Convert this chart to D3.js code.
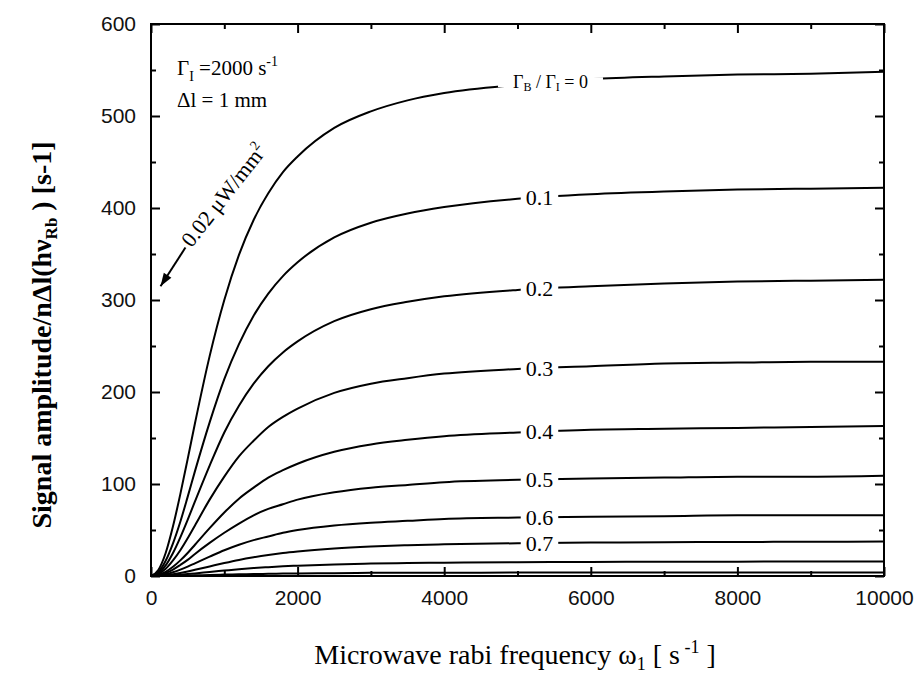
<!DOCTYPE html>
<html><head><meta charset="utf-8">
<script src="https://cdn.jsdelivr.net/npm/d3@7"></script>
<style>body{margin:0;background:#fff}</style>
</head><body>
<svg id="chart" width="914" height="677"></svg>
<script>
// ---- data ----
const omega = [0,100,200,300,400,500,600,800,1000,1200,1400,1600,1800,2000,2500,3000,3500,4000,5000,6000,7000,8000,9000,10000];
const ratioLabels = ["0","0.1","0.2","0.3","0.4","0.5","0.6","0.7","0.8","0.9"];
const amp00 = [0,6.5,25,54,89,127,166,239,300,349,387,416,439,456,487,505,517,525,534,540,543,545,546,548];
const amp01 = [0,4.3,16.5,35.5,59,86,114,167,214,252,283,307,326,341,368,384,394,401,410,415,418,420,421,422];
const amp02 = [0,3,11.5,25,42,61,81,120,156,185,209,228,243,255,277,290,298,304,311,315,318,320,321,322];
const amp03 = [0,2,7.8,17,28,41,55,83,108,130,147,162,173,182,199,209,215,220,225,228,231,232,233,233];
const amp04 = [0,1.2,4.6,10,17,25,34,52,69,84,96,107,115,122,135,143,148,152,156,159,160,161,162,163];
const amp05 = [0,0.8,3.2,7,12,17.5,24,36,47,57,66,73,78,83,91,96,99,102,104.5,106,107,108,108,109];
const amp06 = [0,0.5,1.9,4.1,6.9,10.2,13.8,21,28,34,39,43,47,50,55,58,60,62,63.5,64.5,65,66,66,66];
const amp07 = [0,0.2,0.9,1.9,3.3,4.9,6.7,10.4,14.1,17.5,20.4,22.9,25,26.7,29.9,32,33.4,34.4,35.6,36.3,36.7,37,37.2,37.4];
const amp08 = [0,0.1,0.4,0.8,1.4,2.1,2.8,4.4,5.9,7.4,8.6,9.6,10.5,11.2,12.6,13.5,14.1,14.5,15,15.3,15.5,15.6,15.7,15.7];
const amp09 = [0,0,0.1,0.2,0.3,0.5,0.7,1.1,1.5,1.8,2.1,2.4,2.6,2.8,3.1,3.4,3.5,3.6,3.7,3.8,3.9,3.9,3.9,3.9];
const xMajorTicks = [0,2000,4000,6000,8000,10000];
const xMinorTicks = [1000,3000,5000,7000,9000];
const yMajorTicks = [0,100,200,300,400,500,600];
const yMinorTicks = [50,150,250,350,450,550];

const seriesList = [amp00,amp01,amp02,amp03,amp04,amp05,amp06,amp07,amp08,amp09];

// ---- layout ----
const svg = d3.select("#chart");
const L = 151, R = 884, T = 24, B = 576;
const x = d3.scaleLinear().domain([0,10000]).range([L,R]);
const y = d3.scaleLinear().domain([0,600]).range([B,T]);
const serif = "'Liberation Serif','Times New Roman',serif";
const sans = "'Liberation Sans',Arial,Helvetica,sans-serif";

// frame
svg.append("rect").attr("x",L).attr("y",T).attr("width",R-L).attr("height",B-T)
  .attr("fill","none").attr("stroke","#000").attr("stroke-width",2);

function styleAxis(g){
  g.select(".domain").remove();
  g.selectAll(".tick line").attr("stroke","#000").attr("stroke-width",2);
  g.selectAll(".tick text").attr("font-family",sans).attr("font-size",21).attr("fill","#111");
}
// bottom
svg.append("g").attr("transform",`translate(0,${B})`)
  .call(d3.axisBottom(x).tickValues(xMajorTicks).tickSize(-9).tickPadding(14).tickFormat(d3.format("d")))
  .call(styleAxis);
svg.append("g").attr("transform",`translate(0,${B})`)
  .call(d3.axisBottom(x).tickValues(xMinorTicks).tickSize(-5).tickFormat(""))
  .call(styleAxis);
// top
svg.append("g").attr("transform",`translate(0,${T})`)
  .call(d3.axisTop(x).tickValues(xMajorTicks).tickSize(-9).tickFormat(""))
  .call(styleAxis);
svg.append("g").attr("transform",`translate(0,${T})`)
  .call(d3.axisTop(x).tickValues(xMinorTicks).tickSize(-5).tickFormat(""))
  .call(styleAxis);
// left
svg.append("g").attr("transform",`translate(${L},0)`)
  .call(d3.axisLeft(y).tickValues(yMajorTicks).tickSize(-9).tickPadding(15).tickFormat(d3.format("d")))
  .call(styleAxis);
svg.append("g").attr("transform",`translate(${L},0)`)
  .call(d3.axisLeft(y).tickValues(yMinorTicks).tickSize(-5).tickFormat(""))
  .call(styleAxis);
// right
svg.append("g").attr("transform",`translate(${R},0)`)
  .call(d3.axisRight(y).tickValues(yMajorTicks).tickSize(-9).tickFormat(""))
  .call(styleAxis);
svg.append("g").attr("transform",`translate(${R},0)`)
  .call(d3.axisRight(y).tickValues(yMinorTicks).tickSize(-5).tickFormat(""))
  .call(styleAxis);

// curves
const line = d3.line().x((d,i)=>x(omega[i])).y(d=>y(d)).curve(d3.curveMonotoneX);
svg.append("g").selectAll("path").data(seriesList).join("path")
  .attr("d",line).attr("fill","none").attr("stroke","#000").attr("stroke-width",2);

function valueAt(series, w){
  for(let i=1;i<omega.length;i++){
    if(w<=omega[i]){
      const t=(w-omega[i-1])/(omega[i]-omega[i-1]);
      return series[i-1]+t*(series[i]-series[i-1]);
    }
  }
  return series[series.length-1];
}

// curve labels
const labG = svg.append("g");
function curveLabel(series, w, build, pad){
  const cx = x(w), cy = y(valueAt(series,w));
  const g = labG.append("g");
  const bg = g.append("rect").attr("fill","#fff");
  const t = g.append("text").attr("x",cx).attr("y",cy).attr("text-anchor","middle")
    .attr("dominant-baseline","central").attr("font-family",serif).attr("fill","#000");
  build(t);
  const bb = t.node().getBBox();
  bg.attr("x",bb.x-pad).attr("width",bb.width+2*pad).attr("y",cy-5).attr("height",10);
}
curveLabel(amp00, 5450, t=>{
  t.attr("font-size",18);
  t.append("tspan").text("Γ");
  t.append("tspan").attr("font-size",12).attr("dy",5).text("B");
  t.append("tspan").attr("dy",-5).text(" / Γ");
  t.append("tspan").attr("font-size",12).attr("dy",5).text("I");
  t.append("tspan").attr("dy",-5).text(" = 0");
}, 15);
for(let k=1;k<=7;k++){
  curveLabel(seriesList[k], 5300, t=>{ t.attr("font-size",22).text(ratioLabels[k]); }, 5);
}

// top-left annotation
const a1 = svg.append("text").attr("x",177).attr("y",75).attr("font-family",serif).attr("font-size",21);
a1.append("tspan").text("Γ");
a1.append("tspan").attr("font-size",14).attr("dy",6).text("I");
a1.append("tspan").attr("dy",-6).text(" =2000 s");
a1.append("tspan").attr("font-size",14).attr("dy",-9).text("-1");
svg.append("text").attr("x",177).attr("y",107).attr("font-family",serif).attr("font-size",21).text("Δl = 1 mm");

// arrow annotation
const tip = [x(130), y(315)], tail = [x(470), y(357)];
svg.append("line").attr("x1",tail[0]).attr("y1",tail[1]).attr("x2",tip[0]).attr("y2",tip[1])
  .attr("stroke","#000").attr("stroke-width",2);
{
  const dx = tip[0]-tail[0], dy = tip[1]-tail[1], len = Math.hypot(dx,dy);
  const ux = dx/len, uy = dy/len, px = -uy, py = ux;
  const h = 13, w = 4.5;
  const p = [[tip[0],tip[1]],[tip[0]-ux*h+px*w, tip[1]-uy*h+py*w],[tip[0]-ux*h-px*w, tip[1]-uy*h-py*w]];
  svg.append("polygon").attr("points",p.map(q=>q.join(",")).join(" ")).attr("fill","#000");
}
const at = svg.append("text").attr("transform",`translate(${tail[0]+6},${tail[1]+1}) rotate(-52)`)
  .attr("font-family",serif).attr("font-size",22);
at.append("tspan").text("0.02 μW/mm");
at.append("tspan").attr("font-size",14).attr("dy",-9).text("2");

// axis titles
const xt = svg.append("text").attr("x",515).attr("y",664).attr("text-anchor","middle")
  .attr("font-family",serif).attr("font-size",28);
xt.append("tspan").text("Microwave rabi frequency ω");
xt.append("tspan").attr("font-size",18).attr("dy",6).text("1");
xt.append("tspan").attr("dy",-6).text(" [ s");
xt.append("tspan").attr("font-size",18).attr("dy",-11).text(" -1");
xt.append("tspan").attr("dy",11).text(" ]");

const yt = svg.append("text").attr("transform","translate(51,335) rotate(-90)").attr("text-anchor","middle")
  .attr("font-family",serif).attr("font-size",28).attr("font-weight","bold");
yt.append("tspan").text("Signal amplitude/nΔl(hν");
yt.append("tspan").attr("font-size",17).attr("dy",6).text("Rb");
yt.append("tspan").attr("dy",-6).text(" ) [s-1]");
</script>
</body></html>
